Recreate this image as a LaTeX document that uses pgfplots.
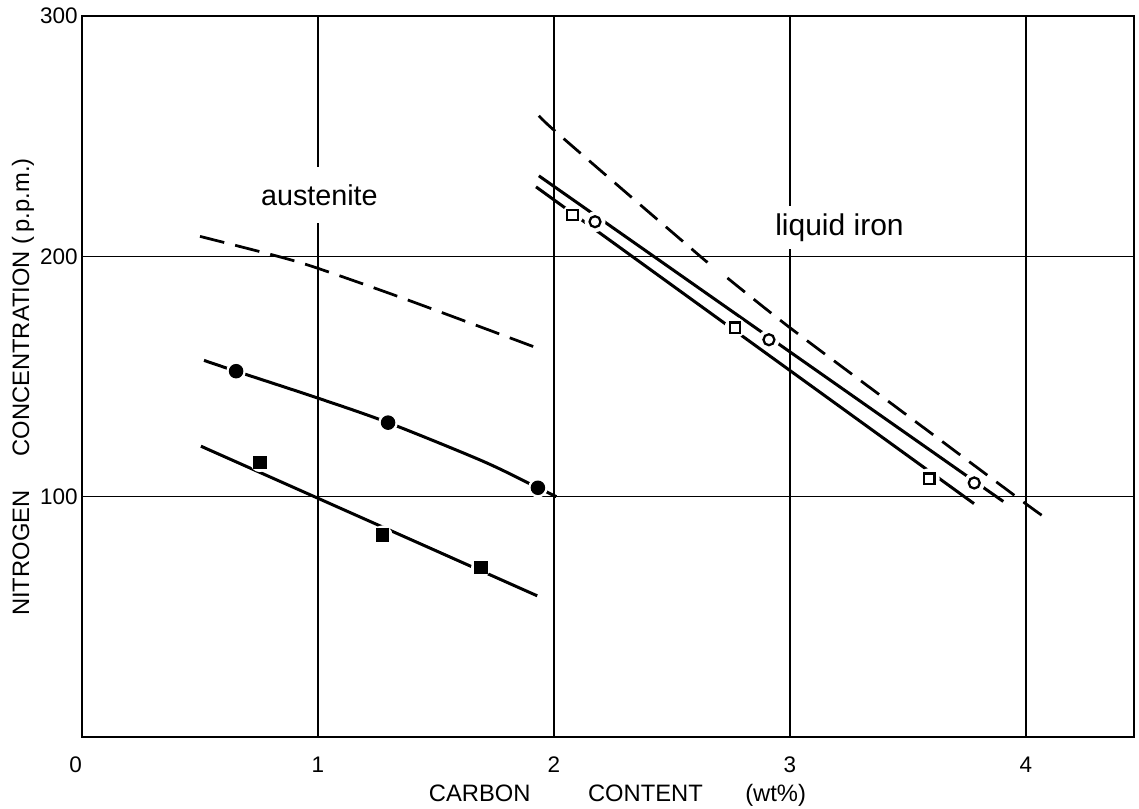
\documentclass[border=0pt]{standalone}
\usepackage{fontspec}
\setmainfont{Liberation Sans}
\usepackage{pgfplots}
\pgfplotsset{compat=1.18}

% nitrogen solubility in austenite and in liquid iron vs carbon content
\pgfplotstableread{
x y
0.653 152.2
1.297 130.8
1.932 103.7
}\austA
\pgfplotstableread{
x y
0.754 114.3
1.274 84.0
1.690 70.5
}\austB
\pgfplotstableread{
x y
2.079 217.2
2.767 170.3
3.590 107.5
}\liqSq
\pgfplotstableread{
x y
2.174 214.4
2.911 165.3
3.781 105.7
}\liqCi

\begin{document}
\begin{tikzpicture}
\begin{axis}[
  at={(0pt,0pt)}, anchor=south west,
  scale only axis, width=420.8pt, height=288.4pt,
  xmin=0, xmax=4.458, ymin=0, ymax=300,
  xtick={0,1,2,3,4},
  xticklabels={\makebox[0pt][r]{0},1,2,3,4},
  ytick={100,200,300},
  grid=major,
  grid style={black, line width=0.5pt},
  major tick length=0pt,
  axis line style={line width=1pt},
  tick label style={font=\fontsize{9}{10}\selectfont},
  /pgf/number format/assume math mode=true,
  xticklabel style={yshift=-4.5pt},
  yticklabel style={inner sep=0pt, xshift=-1.5pt},
  clip=false,
]
% austenite: fitted curves
\addplot[black, line width=1.1pt, dash pattern=on 10pt off 4.5pt, smooth]
  coordinates {(0.50,208.3) (0.83,200) (1.0,195) (1.376,182) (1.952,161)};
\addplot[black, line width=1.2pt, smooth]
  coordinates {(0.517,156.7) (0.653,152.2) (1.0,141) (1.297,130.8) (1.70,114.7) (1.932,103.7) (2.01,100)};
\addplot[black, line width=1.2pt]
  coordinates {(0.504,121) (1.929,58.75)};

% liquid iron: fitted lines
\addplot[black, line width=1.1pt, dash pattern=on 9pt off 4.5pt, smooth]
  coordinates {(1.936,258.5) (2.0,252.5) (2.3,227) (2.62,200) (2.645,198)};
\addplot[black, line width=1.1pt, dash pattern=on 9pt off 4.5pt, smooth]
  coordinates {(2.735,191) (3.0,170.3) (3.5,133.6) (3.967,99.4) (4.078,91.5)};
\addplot[black, line width=1.2pt]
  coordinates {(1.936,233.5) (3.904,98.0)};
\addplot[black, line width=1.2pt]
  coordinates {(1.924,228.9) (3.780,97.1)};

% white clearance round the symbols
\addplot[only marks, mark=*, white, mark size=3.7pt] table {\austA};
\addplot[only marks, mark=*, white, mark size=3.7pt] table {\austB};
\addplot[only marks, mark=*, white, mark size=4.0pt] table {\liqSq};
\addplot[only marks, mark=*, white, mark size=4.0pt] table {\liqCi};

% measured points
\addplot[only marks, mark=*, black, mark size=2.7pt] table {\austA};
\addplot[only marks, mark=square*, black, mark size=2.5pt] table {\austB};
\addplot[only marks, mark=square*, mark options={draw=black, fill=white, line width=0.9pt}, mark size=2.1pt] table {\liqSq};
\addplot[only marks, mark=*, mark options={draw=black, fill=white, line width=0.9pt}, mark size=2.2pt] table {\liqCi};

% region labels
\node[fill=white, inner xsep=1pt, inner ysep=7pt, font=\fontsize{11.5}{13}\selectfont]
  at (axis cs:1.006,225.4) {austenite};
\node[fill=white, inner xsep=1pt, inner ysep=3pt, font=\fontsize{12}{13}\selectfont]
  at (axis cs:3.21,212) {liquid iron};

% axis titles
\node[font=\fontsize{9.5}{11}\selectfont] at ([yshift=-23.2pt]axis cs:2.269,0)
  {CARBON\hspace{23pt}CONTENT\hspace{17pt}(wt\%)};
\node[font=\fontsize{9.5}{11}\selectfont, rotate=90] at ([xshift=-23.6pt]axis cs:0,145.6)
  {NITROGEN\hspace{13.6pt}CONCENTRATION\hspace{2.8pt}(\,p.p.m.)};
\end{axis}
\pgfresetboundingbox
\path (-32.8pt,-28.8pt) rectangle (422.8pt,294.8pt);
\end{tikzpicture}
\end{document}
